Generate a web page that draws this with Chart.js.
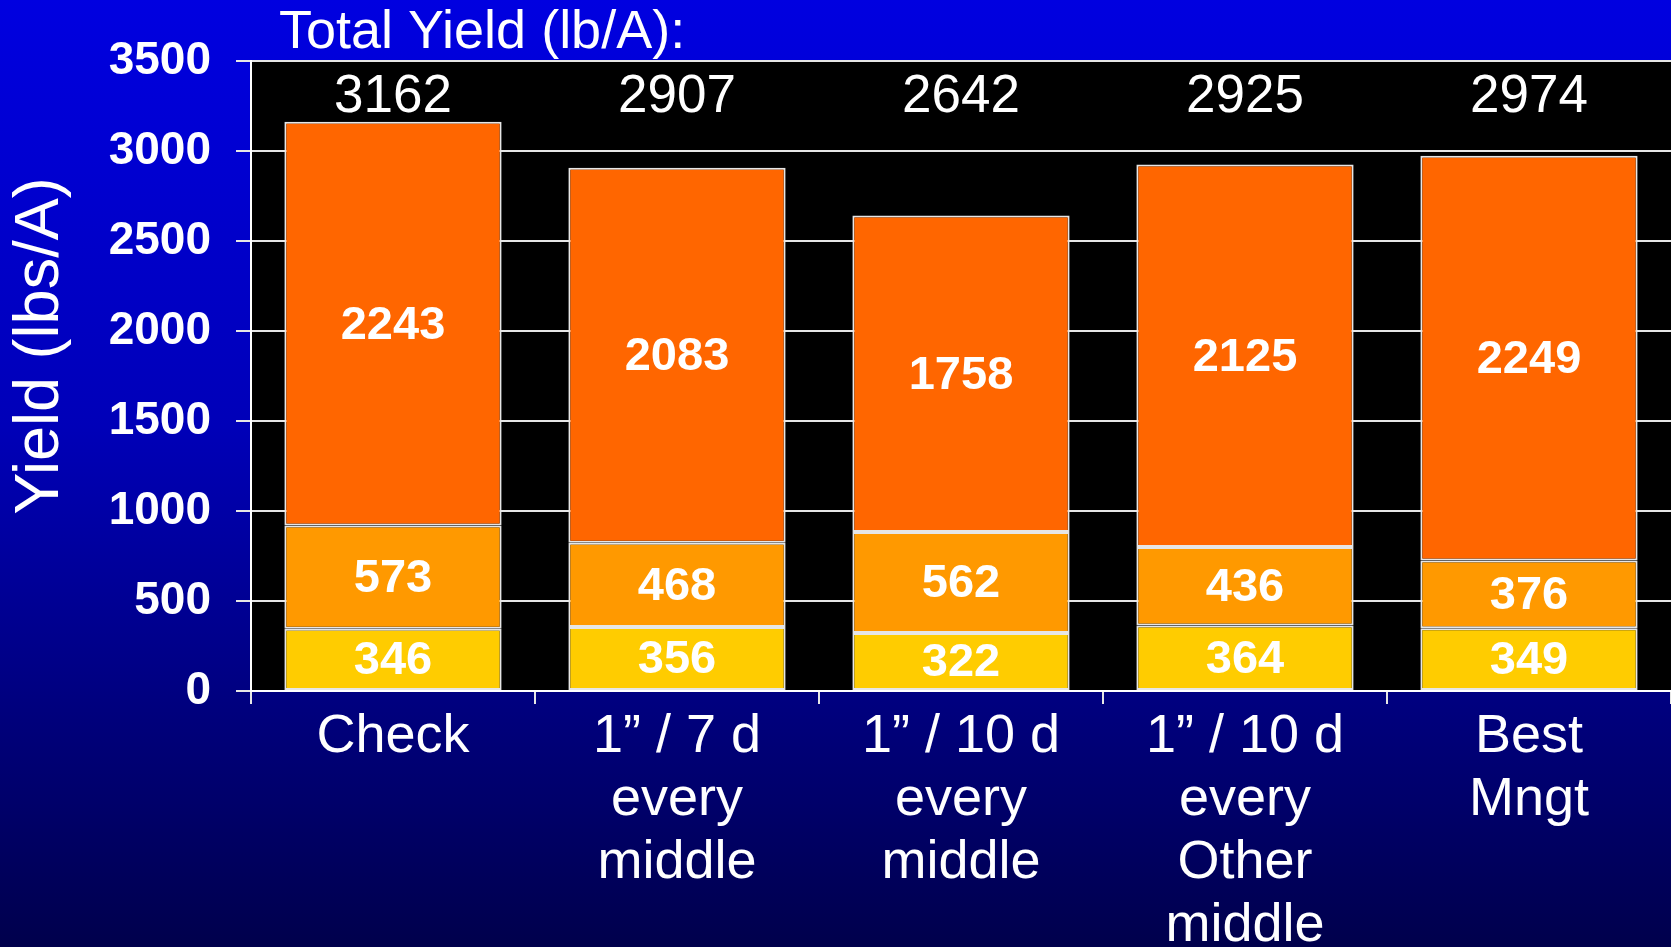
<!DOCTYPE html>
<html>
<head>
<meta charset="utf-8">
<script src="https://cdn.jsdelivr.net/npm/chart.js@4.4.0/dist/chart.umd.min.js"></script>
<style>
  html, body { margin: 0; padding: 0; }
  body {
    width: 1671px;
    height: 947px;
    overflow: hidden;
    background: linear-gradient(to bottom, #0000e0 0%, #0000b8 45%, #00004c 100%);
  }
  canvas { display: block; }
</style>
</head>
<body>
<canvas id="chart" width="1671" height="947"></canvas>
<script>
// categories, one array per multi-line label
const categories = [
  ["Check"],
  ["1\u201d / 7 d", "every", "middle"],
  ["1\u201d / 10 d", "every", "middle"],
  ["1\u201d / 10 d", "every", "Other", "middle"],
  ["Best", "Mngt"]
];

// stacked segments, bottom to top
const lowYield = [346, 356, 322, 364, 349];
const midYield = [573, 468, 562, 436, 376];
const topYield = [2243, 2083, 1758, 2125, 2249];
const totalYield = [3162, 2907, 2642, 2925, 2974];

const titleText = "Total Yield (lb/A):";
const yTitle = "Yield (lbs/A)";

const FONT = "'Liberation Sans', Arial, Helvetica, sans-serif";

// black plot area behind the bars
const plotBackdrop = {
  id: "plotBackdrop",
  beforeDraw(chart) {
    const { ctx, chartArea: a } = chart;
    ctx.save();
    ctx.fillStyle = "#000";
    ctx.fillRect(a.left, a.top, a.right - a.left, a.bottom - a.top);
    ctx.restore();
  }
};

// values written in the middle of each segment
const segmentLabels = {
  id: "segmentLabels",
  afterDatasetsDraw(chart) {
    const ctx = chart.ctx;
    ctx.save();
    ctx.fillStyle = "#fff";
    ctx.font = "bold 47px " + FONT;
    ctx.textAlign = "center";
    ctx.textBaseline = "middle";
    chart.data.datasets.forEach((ds, i) => {
      const meta = chart.getDatasetMeta(i);
      meta.data.forEach((bar, j) => {
        ctx.fillText(String(ds.data[j]), bar.x, (bar.y + bar.base) / 2 + 2);
      });
    });
    ctx.restore();
  }
};

// heading, totals row and the y title (placed a bit above centre like the slide)
const extraText = {
  id: "extraText",
  afterDraw(chart) {
    const { ctx, chartArea: a } = chart;
    const meta = chart.getDatasetMeta(0);
    ctx.save();
    ctx.fillStyle = "#fff";
    ctx.textBaseline = "middle";
    ctx.font = "54px " + FONT;
    ctx.textAlign = "left";
    ctx.fillText(titleText, a.left + 28, 33);
    ctx.font = "53px " + FONT;
    ctx.textAlign = "center";
    meta.data.forEach((bar, j) => {
      ctx.fillText(String(totalYield[j]), bar.x, a.top + 36);
    });
    ctx.translate(41, (a.top + a.bottom) / 2 - 30);
    ctx.rotate(-Math.PI / 2);
    ctx.font = "63px " + FONT;
    ctx.fillText(yTitle, 0, 0);
    ctx.restore();
  }
};

Chart.defaults.color = "#fff";
Chart.defaults.font.family = FONT;

const ctx = document.getElementById("chart").getContext("2d");

const chart = new Chart(ctx, {
  type: "bar",
  data: {
    labels: categories,
    datasets: [
      { label: "low", data: lowYield, backgroundColor: "#ffcc00" },
      { label: "mid", data: midYield, backgroundColor: "#ff9900" },
      { label: "top", data: topYield, backgroundColor: "#ff6600" }
    ]
  },
  options: {
    responsive: false,
    animation: false,
    devicePixelRatio: 1,
    layout: { padding: { top: 61, left: 0, right: 0, bottom: 0 } },
    datasets: {
      bar: {
        categoryPercentage: 1,
        barPercentage: 0.765,
        borderWidth: 2,
        borderColor: "#e6e6e6",
        borderSkipped: false
      }
    },
    plugins: {
      legend: { display: false },
      tooltip: { enabled: false }
    },
    scales: {
      x: {
        stacked: true,
        afterFit(scale) { scale.height = 256; },
        grid: {
          offset: true,
          drawOnChartArea: false,
          drawTicks: true,
          tickLength: 13,
          color: "#e6e6e6",
          lineWidth: 2
        },
        border: { display: true, color: "#ffffff", width: 2 },
        ticks: {
          padding: 2,
          maxRotation: 0,
          autoSkip: false,
          color: "#fff",
          font: { size: 54, lineHeight: 1.167 }
        }
      },
      y: {
        stacked: true,
        min: 0,
        max: 3500,
        afterFit(scale) { scale.width = 251; },
        grid: {
          color: "#e6e6e6",
          lineWidth: 2,
          tickLength: 15,
          drawTicks: true
        },
        border: { display: true, color: "#ffffff", width: 2 },
        ticks: {
          stepSize: 500,
          padding: 25,
          color: "#fff",
          font: { size: 46, weight: "bold" },
          callback: (v) => String(v)
        }
      }
    }
  },
  plugins: [plotBackdrop, segmentLabels, extraText]
});
</script>
</body>
</html>
